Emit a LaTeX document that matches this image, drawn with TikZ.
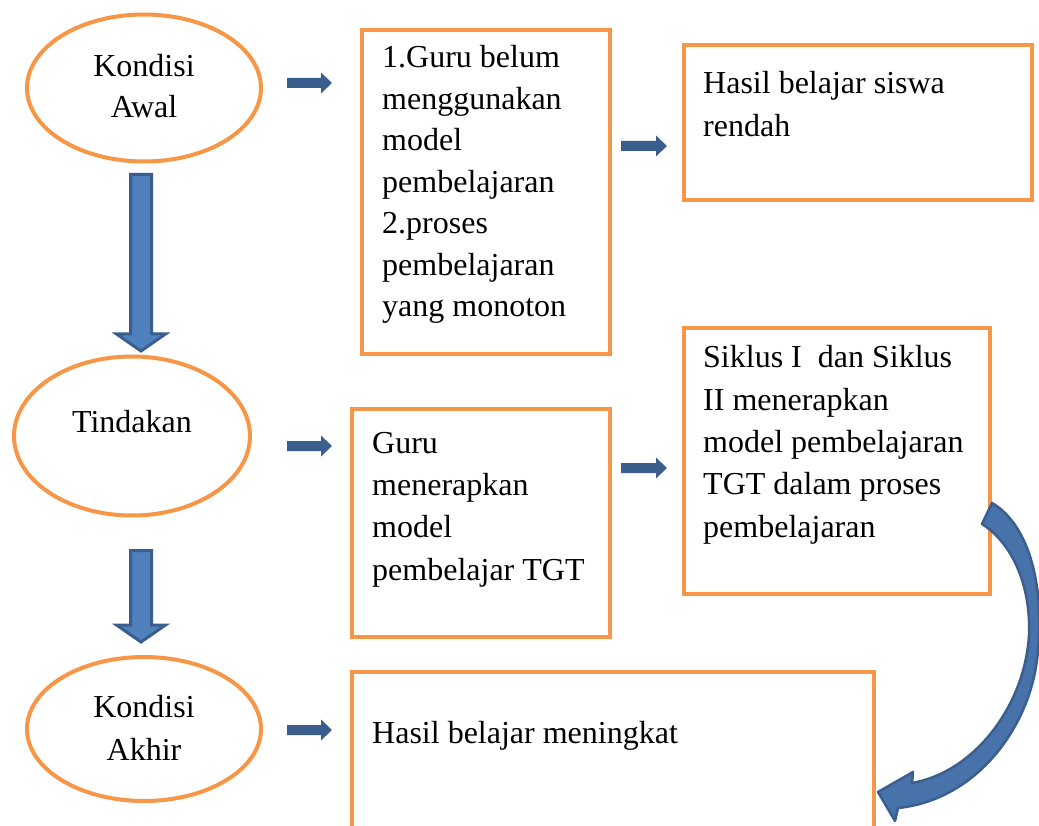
\documentclass[tikz,border=0pt]{standalone}
\usepackage{fontspec}
\setmainfont{Liberation Serif}
\usetikzlibrary{shapes.geometric,calc}
\definecolor{orng}{HTML}{F79646}
\definecolor{bfill}{HTML}{4F81BD}
\definecolor{cfill}{HTML}{4773AA}
\definecolor{bline}{HTML}{3A5F8E}
\definecolor{sblue}{HTML}{3B5E8D}
\tikzset{
  oval/.style={ellipse, draw=orng, line width=4pt, inner sep=0pt},
  box/.style={rectangle, draw=orng, line width=4pt, inner sep=0pt, anchor=north west},
  txt/.style={font=\fontsize{32}{42}\selectfont, inner sep=0pt, align=left, anchor=base west},
  ctxt/.style={font=\fontsize{32}{42}\selectfont, inner sep=0pt, align=center, anchor=base},
  bigarrow/.style={fill=bfill, draw=bline, line width=3pt, line join=miter},
  smallarrow/.style={fill=sblue, draw=none},
}
\newcommand\smallarr[2]{\fill[smallarrow] let \p1=(#1),\p2=(#2) in
  (\x1,\y1+5pt) -- (\x2-11pt,\y1+5pt) -- (\x2-11pt,\y1+10.5pt) -- (\x2,\y1)
  -- (\x2-11pt,\y1-10.5pt) -- (\x2-11pt,\y1-5pt) -- (\x1,\y1-5pt) -- cycle;}
\newcommand\downarr[2]{\filldraw[bigarrow] let \p1=(#1),\p2=(#2) in
  (\x1-10.5pt,\y1) -- (\x1+10.5pt,\y1) -- (\x1+10.5pt,\y2+17pt) -- (\x1+24.5pt,\y2+17pt)
  -- (\x1,\y2) -- (\x1-24.5pt,\y2+17pt) -- (\x1-10.5pt,\y2+17pt) -- cycle;}
\begin{document}
\begin{tikzpicture}[x=1pt,y=-1pt]
\useasboundingbox (0,0) rectangle (1039,826);
\clip (0,0) rectangle (1039,826);
\fill[white] (0,0) rectangle (1039,826);

% ellipses
\node[oval, minimum width=234pt, minimum height=147pt] (e1) at (144,88) {};
\node[oval, minimum width=236pt, minimum height=159pt] (e2) at (132,436) {};
\node[oval, minimum width=234pt, minimum height=144pt] (e3) at (144,729) {};
% (base anchor of a multi-line node = baseline of its last line)
\node[ctxt, font=\fontsize{32}{41}\selectfont] (e1t) at (144,118) {Kondisi\\Awal};
\node[ctxt] (e2t) at (132,432) {Tindakan};
\node[ctxt, font=\fontsize{32}{43}\selectfont] (e3t) at (144,760) {Kondisi\\Akhir};

% boxes
\node[box, minimum width=248pt, minimum height=324pt] (b1) at (360,28) {};
\node[box, minimum width=348pt, minimum height=155pt] (b2) at (682,43) {};
\node[box, minimum width=306pt, minimum height=266pt] (b3) at (682,326) {};
\node[box, minimum width=258pt, minimum height=228pt] (b4) at (350,407) {};
\node[box, minimum width=522pt, minimum height=180pt] (b5) at (350,670) {};

\node[txt, font=\fontsize{32}{41.5}\selectfont] (b1t) at (382,317) {1.Guru belum\\menggunakan\\model\\pembelajaran\\2.proses\\pembelajaran\\yang monoton};
\node[txt, font=\fontsize{32}{43}\selectfont] (b2t) at (703,137) {Hasil belajar siswa\\rendah};
\node[txt, font=\fontsize{32}{42.3}\selectfont] (b3t) at (703,537) {Siklus I~ dan Siklus\\II menerapkan\\model pembelajaran\\TGT dalam proses\\pembelajaran};
\node[txt, font=\fontsize{32}{42.3}\selectfont] (b4t) at (372,580) {Guru\\menerapkan\\model\\pembelajar TGT};
\node[txt] (b5t) at (372,743) {Hasil belajar meningkat};

% small arrows
\coordinate (s1a) at (287,83);  \coordinate (s1b) at (332,83);
\coordinate (s2a) at (287,446); \coordinate (s2b) at (332,446);
\coordinate (s3a) at (287,730); \coordinate (s3b) at (332,730);
\coordinate (s4a) at (621,146); \coordinate (s4b) at (667,146);
\coordinate (s5a) at (621,468); \coordinate (s5b) at (667,468);
\smallarr{s1a}{s1b}
\smallarr{s2a}{s2b}
\smallarr{s3a}{s3b}
\smallarr{s4a}{s4b}
\smallarr{s5a}{s5b}

% down arrows
\coordinate (d1a) at (141,174.5); \coordinate (d1b) at (141,351);
\coordinate (d2a) at (141,550.5); \coordinate (d2b) at (141,642);
\downarr{d1a}{d1b}
\downarr{d2a}{d2b}

% curved arrow from b3 to b5
\filldraw[bigarrow, fill=cfill, line width=2.5pt, line join=round]
  (992,503) .. controls (1030,525) and (1046,590) .. (1037,660)
  .. controls (1028,730) and (975,800) .. (898,808)
  -- (895,821) -- (878,792) -- (913,772) -- (912,783)
  .. controls (975,772) and (1025,705) .. (1029,635)
  .. controls (1031,585) and (1012,543) .. (982,524) -- cycle;
\end{tikzpicture}
\end{document}
